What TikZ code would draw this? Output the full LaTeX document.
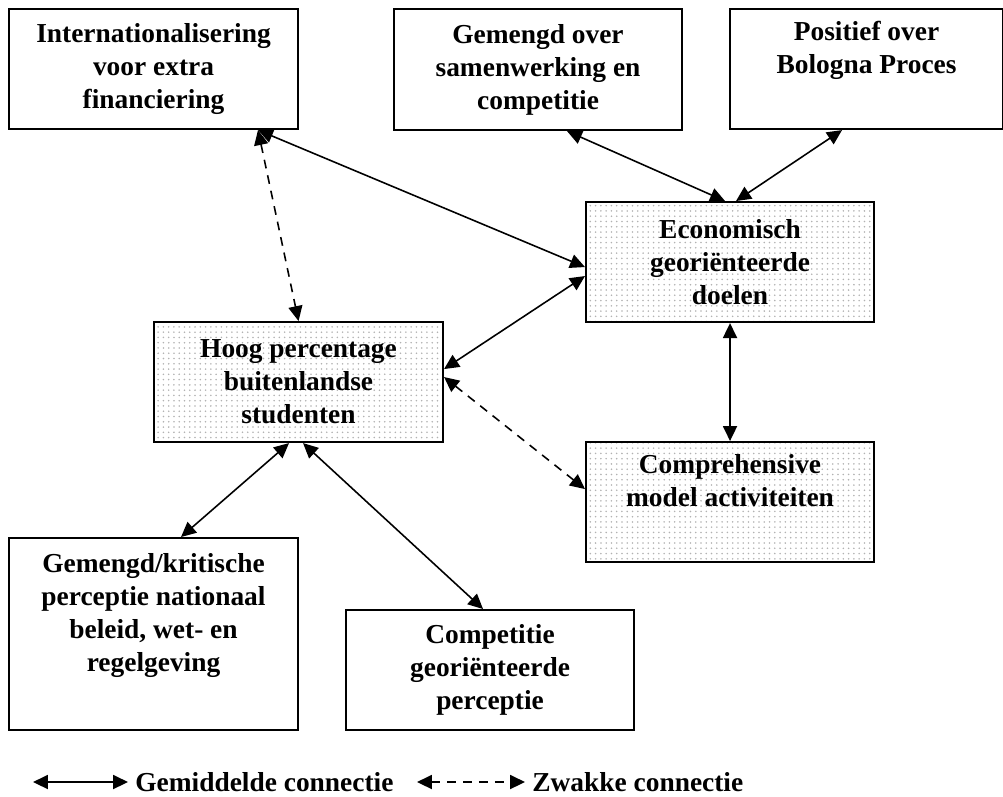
\documentclass[tikz,border=0pt]{standalone}
\usepackage{fontspec}
\setmainfont{Liberation Serif}
\usetikzlibrary{arrows.meta,patterns,positioning}

\tikzset{
  box/.style={draw, line width=1.2pt, rectangle, anchor=north west, inner sep=0pt,
    align=center, font=\fontsize{15.6}{18.8}\selectfont\bfseries},
  shadedbox/.style={box, pattern=dots, pattern color=gray!60},
  conn/.style={{Triangle[length=8.5pt,width=8pt]}-{Triangle[length=8.5pt,width=8pt]}, line width=0.9pt},
  weak/.style={conn, dash pattern=on 5pt off 4pt},
  legendtext/.style={anchor=west, inner ysep=0pt, inner xsep=4pt, font=\fontsize{15.6}{18.8}\selectfont\bfseries}
}

\begin{document}
\begin{tikzpicture}[x=0.02cm, y=-0.02cm]
    \useasboundingbox (0,0) rectangle (1003,796);

    % Top row
    \node[box, minimum width=5.78cm, minimum height=2.4cm] (intl) at (8,8)
        {Internationalisering\\voor extra\\financiering};
    \node[box, minimum width=5.76cm, minimum height=2.42cm] (samen) at (393,8)
        {Gemengd over\\samenwerking en\\competitie};
    \node[box, minimum width=5.46cm, minimum height=2.4cm] (bologna) at (729,8)
        {Positief over\\Bologna Proces\\\strut};

    % Shaded boxes
    \node[shadedbox, minimum width=5.76cm, minimum height=2.4cm] (econ) at (585,201)
        {Economisch\\georiënteerde\\doelen};
    \node[shadedbox, minimum width=5.78cm, minimum height=2.4cm] (hoog) at (153,321)
        {Hoog percentage\\buitenlandse\\studenten};
    \node[shadedbox, minimum width=5.76cm, minimum height=2.4cm] (compr) at (585,441)
        {Comprehensive\\model activiteiten\\\strut};

    % Bottom row
    \node[box, minimum width=5.78cm, minimum height=3.84cm] (beleid) at (8,537)
        {Gemengd/kritische\\perceptie nationaal\\beleid, wet- en\\regelgeving\\\strut};
    \node[box, minimum width=5.76cm, minimum height=2.4cm] (compet) at (345,609)
        {Competitie\\georiënteerde\\perceptie};

    % Connections
    \draw[conn] ([xshift=2.09cm]intl.south) -- ([yshift=-0.1cm]econ.west);
    \draw[weak] ([xshift=2.09cm]intl.south) -- (hoog.north);
    \draw[conn] ([xshift=0.58cm]samen.south) -- ([xshift=-0.1cm]econ.north);
    \draw[conn] ([xshift=-0.49cm]bologna.south) -- ([xshift=0.12cm]econ.north);
    \draw[conn] ([yshift=0.26cm]hoog.east) -- ([yshift=-0.28cm]econ.west);
    \draw[conn] (econ.south) -- (compr.north);
    \draw[weak] ([yshift=0.1cm]hoog.east) -- ([yshift=0.26cm]compr.west);
    \draw[conn] ([xshift=-0.19cm]hoog.south) -- ([xshift=0.55cm]beleid.north);
    \draw[conn] ([xshift=0.09cm]hoog.south) -- ([xshift=-0.14cm]compet.north);

    % Legend
    \node[legendtext] (legmid) at (128,782) {Gemiddelde connectie};
    \node[legendtext] (legweak) at (525,782) {Zwakke connectie};
    \coordinate (lmid) at (33,782);
    \coordinate (lweak) at (417,782);
    \draw[conn] (lmid) -- (legmid.west);
    \draw[weak] (lweak) -- (legweak.west);
\end{tikzpicture}
\end{document}
